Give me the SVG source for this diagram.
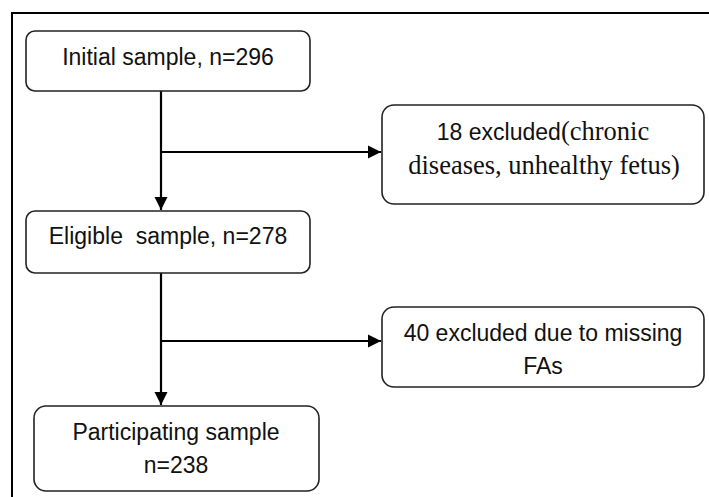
<svg xmlns="http://www.w3.org/2000/svg" width="709" height="497" viewBox="0 0 709 497">
<defs>
<style>
.box{fill:#fff;stroke:#222;stroke-width:1.6}
.sans{font-family:"Liberation Sans",Arial,sans-serif;font-size:23px;fill:#111}
.serif{font-family:"Liberation Serif","Times New Roman",serif;font-size:26.5px;fill:#111}
.ln{stroke:#000;stroke-width:2.2;fill:none}
</style>
<marker id="arr" viewBox="0 0 10 10" refX="10" refY="5" markerWidth="6" markerHeight="6" markerUnits="strokeWidth" orient="auto">
<path d="M0,0 L10,5 L0,10 Z" fill="#000"/>
</marker>
</defs>
<rect width="709" height="497" fill="#fff"/>
<g id="frame">
<path d="M12,497 L12,13 L709,13" fill="none" stroke="#000" stroke-width="2"/>
</g>
<g id="connectors">
<path class="ln" d="M161,91 L161,210" marker-end="url(#arr)"/>
<path class="ln" d="M161,152 L381,152" marker-end="url(#arr)"/>
<path class="ln" d="M161,273 L161,405" marker-end="url(#arr)"/>
<path class="ln" d="M161,341 L381,341" marker-end="url(#arr)"/>
</g>
<g id="initial">
<rect class="box" x="26" y="31" width="284" height="60" rx="9"/>
<text class="sans" x="168" y="65" text-anchor="middle">Initial sample, n=296</text>
</g>
<g id="excluded18">
<rect class="box" x="382" y="105" width="322" height="99" rx="12"/>
<text x="543" y="140" text-anchor="middle"><tspan class="sans">18 excluded</tspan><tspan class="serif">(chronic</tspan></text>
<text class="serif" x="544" y="174" text-anchor="middle">diseases, unhealthy fetus)</text>
</g>
<g id="eligible">
<rect class="box" x="26" y="211" width="284" height="62" rx="9"/>
<text class="sans" x="168" y="244" text-anchor="middle" xml:space="preserve">Eligible  sample, n=278</text>
</g>
<g id="excluded40">
<rect class="box" x="382" y="307" width="322" height="80" rx="12"/>
<text class="sans" x="543" y="341" text-anchor="middle">40 excluded due to missing</text>
<text class="sans" x="543" y="374" text-anchor="middle">FAs</text>
</g>
<g id="participating">
<rect class="box" x="34" y="406" width="285" height="85" rx="12"/>
<text class="sans" x="176" y="440" text-anchor="middle">Participating sample</text>
<text class="sans" x="176" y="473" text-anchor="middle">n=238</text>
</g>
</svg>
